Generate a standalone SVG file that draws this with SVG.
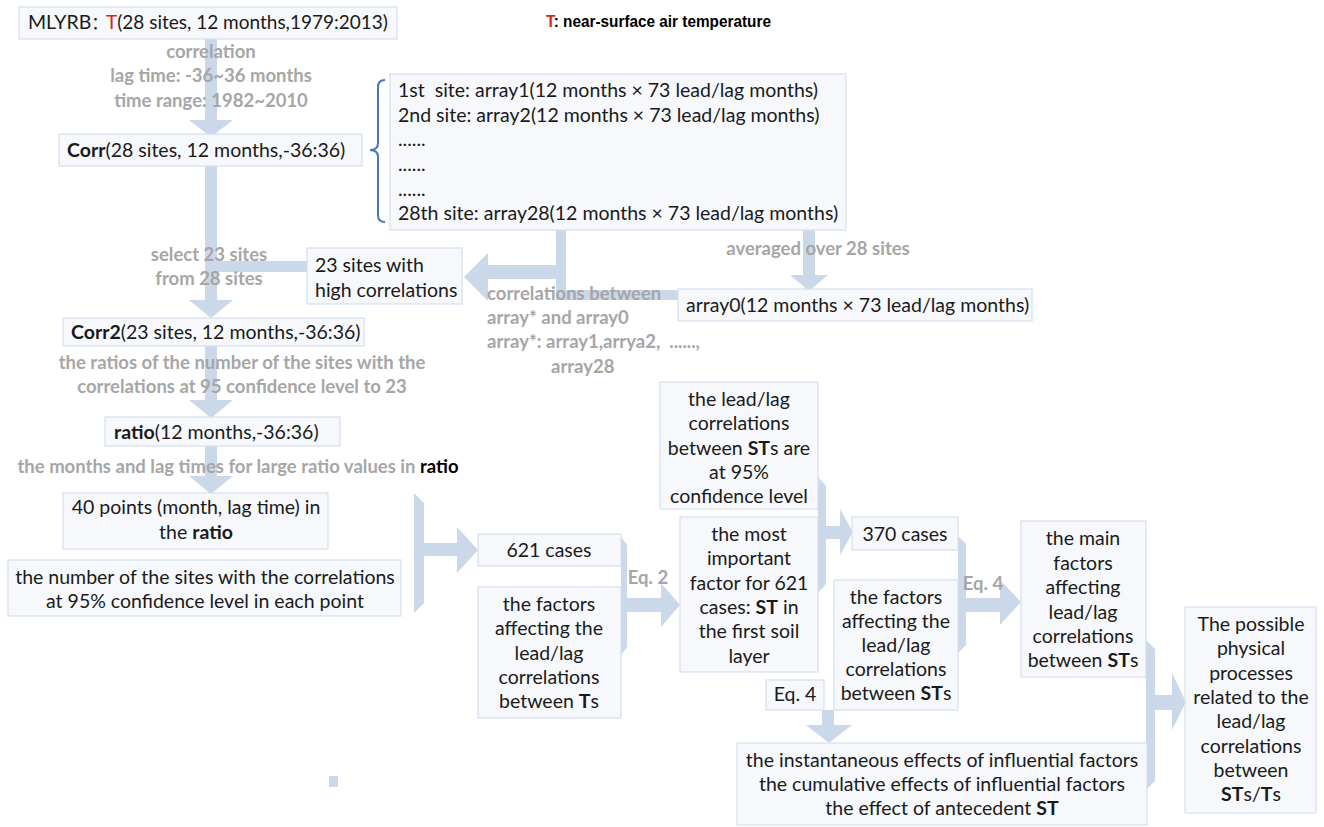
<svg xmlns="http://www.w3.org/2000/svg" width="1324" height="827" viewBox="0 0 1324 827">
<style>
.box{fill:#f6f8fb;stroke:#d6e0ee;stroke-width:1.2}
.arr{fill:#cbd8ea;stroke:none}
.t{font-family:Lato,"Liberation Sans","Noto Sans CJK SC",sans-serif;font-size:19.5px;fill:#1a1a1a;white-space:pre}
.c{text-anchor:middle}
.g{font-family:Lato,"Liberation Sans",sans-serif;font-size:18.5px;font-weight:bold;fill:#a6a6a6;white-space:pre}
.b{font-weight:bold}
</style>
<rect width="1324" height="827" fill="#ffffff"/>
<g id="connectors">
  <rect class="arr" x="205" y="39" width="12" height="82"/>
  <polygon class="arr" points="189,120 233,120 211,137"/>
  <rect class="arr" x="205" y="166" width="12" height="135"/>
  <polygon class="arr" points="189,300 233,300 211,318"/>
  <rect class="arr" x="217" y="261" width="90" height="11"/>
  <rect class="arr" x="556" y="230" width="10" height="70"/>
  <rect class="arr" x="556" y="290" width="122" height="10"/>
  <rect class="arr" x="486" y="265" width="80" height="14"/>
  <polygon class="arr" points="488,253 488,301 464,277"/>
  <rect class="arr" x="803" y="230" width="12" height="46"/>
  <polygon class="arr" points="790,275 828,275 809,291"/>
  <rect class="arr" x="205" y="346" width="12" height="55"/>
  <polygon class="arr" points="189,400 233,400 211,418"/>
  <rect class="arr" x="205" y="446" width="12" height="31"/>
  <polygon class="arr" points="189,476 233,476 211,494"/>
  <polygon class="arr" points="414,493 424,503 424,603 414,613"/>
  <rect class="arr" x="424" y="543" width="34" height="13"/>
  <polygon class="arr" points="457,527 457,573 478,550"/>
  <polygon class="arr" points="621,537 627,545 627,647 621,655"/>
  <rect class="arr" x="627" y="598" width="35" height="14"/>
  <polygon class="arr" points="661,583 661,627 680,605"/>
  <polygon class="arr" points="818,477 826,486 826,584 818,593"/>
  <rect class="arr" x="826" y="526" width="16" height="13"/>
  <polygon class="arr" points="840,509 840,555 853,532"/>
  <polygon class="arr" points="958,536 966,544 966,645 958,653"/>
  <rect class="arr" x="966" y="598" width="35" height="14"/>
  <polygon class="arr" points="1000,580 1000,625 1021,602"/>
  <rect class="arr" x="822" y="710" width="12" height="16"/>
  <polygon class="arr" points="806,725 852,725 829,743"/>
  <polygon class="arr" points="1146,640 1155,649 1155,781 1146,790"/>
  <rect class="arr" x="1155" y="695" width="18" height="15"/>
  <polygon class="arr" points="1172,673 1172,730 1186,702"/>
  <path d="M385,80 Q378,80 378,87 L378,143 Q378,150 370,150 Q378,150 378,157 L378,215 Q378,222 385,222" fill="none" stroke="#4a78b4" stroke-width="2"/>
  <rect class="arr" x="329" y="776" width="9" height="11"/>
  <text class="g c" x="211" y="58">correlation</text>
  <text class="g c" x="211" y="82">lag time: -36~36 months</text>
  <text class="g c" x="211" y="107">time range: 1982~2010</text>
  <text class="g c" x="209" y="261">select 23 sites</text>
  <text class="g c" x="209" y="285">from 28 sites</text>
  <text class="g c" x="818" y="255">averaged over 28 sites</text>
  <text class="g" x="487" y="300">correlations between</text>
  <text class="g" x="487" y="324">array* and array0</text>
  <text class="g" x="487" y="348">array*: array1,arrya2,  ......,</text>
  <text class="g" x="551" y="373">array28</text>
  <text class="g c" x="242" y="369">the ratios of the number of the sites with the</text>
  <text class="g c" x="242" y="393">correlations at 95 confidence level to 23</text>
  <text class="g c" x="238" y="473">the months and lag times for large ratio values in <tspan fill="#000">ratio</tspan></text>
  <text class="g c" x="648" y="584">Eq. 2</text>
  <text class="g c" x="983" y="590">Eq. 4</text>
</g>
<g id="title">
  <text x="546" y="27" font-family="'Liberation Sans',Arial,sans-serif" font-size="16" font-weight="bold" fill="#000" textLength="225" lengthAdjust="spacingAndGlyphs"><tspan fill="#e0201b">T</tspan>: near-surface air temperature</text>
</g>
<g id="n-mlyrb">
  <rect class="box" x="19" y="7" width="378" height="32"/>
  <text class="t" x="28" y="29">MLYRB<tspan style="font-family:'Noto Sans CJK SC',sans-serif;font-size:17px">：</tspan></text>
  <text class="t" x="106" y="29" style="font-size:19px"><tspan fill="#e0201b">T</tspan>(28 sites, 12 months,1979:2013)</text>
</g>
<g id="n-corr">
  <rect class="box" x="59" y="134" width="303" height="32"/>
  <text class="t" x="67" y="157"><tspan class="b">Corr</tspan>(28 sites, 12 months,-36:36)</text>
</g>
<g id="n-arrays">
  <rect class="box" x="390" y="74" width="456" height="156"/>
  <text class="t" x="398" y="97">1st  site: array1(12 months × 73 lead/lag months)</text>
  <text class="t" x="398" y="122">2nd site: array2(12 months × 73 lead/lag months)</text>
  <text class="t" x="398" y="146">......</text>
  <text class="t" x="398" y="171">......</text>
  <text class="t" x="398" y="196">......</text>
  <text class="t" x="398" y="220">28th site: array28(12 months × 73 lead/lag months)</text>
</g>
<g id="n-23sites">
  <rect class="box" x="307" y="248" width="155" height="56"/>
  <text class="t" x="315" y="272">23 sites with</text>
  <text class="t" x="315" y="297">high correlations</text>
</g>
<g id="n-array0">
  <rect class="box" x="678" y="289" width="354" height="32"/>
  <text class="t" x="686" y="312">array0(12 months × 73 lead/lag months)</text>
</g>
<g id="n-corr2">
  <rect class="box" x="63" y="318" width="301" height="28"/>
  <text class="t" x="71" y="339"><tspan class="b">Corr2</tspan>(23 sites, 12 months,-36:36)</text>
</g>
<g id="n-ratio">
  <rect class="box" x="105" y="417" width="235" height="29"/>
  <text class="t" x="114" y="439"><tspan class="b">ratio</tspan>(12 months,-36:36)</text>
</g>
<g id="n-40points">
  <rect class="box" x="63" y="493" width="265" height="56"/>
  <text class="t c" x="196" y="514">40 points (month, lag time) in</text>
  <text class="t c" x="196" y="539">the <tspan class="b">ratio</tspan></text>
</g>
<g id="n-numsites">
  <rect class="box" x="8" y="560" width="393" height="56"/>
  <text class="t c" x="205" y="584">the number of the sites with the correlations</text>
  <text class="t c" x="205" y="608">at 95% confidence level in each point</text>
</g>
<g id="n-621">
  <rect class="box" x="478" y="534" width="143" height="32"/>
  <text class="t c" x="549" y="557">621 cases</text>
</g>
<g id="n-factorsT">
  <rect class="box" x="478" y="587" width="143" height="131"/>
  <text class="t c" x="549" y="611">the factors</text>
  <text class="t c" x="549" y="635">affecting the</text>
  <text class="t c" x="549" y="660">lead/lag</text>
  <text class="t c" x="549" y="684">correlations</text>
  <text class="t c" x="549" y="708">between <tspan class="b">T</tspan>s</text>
</g>
<g id="n-stconf">
  <rect class="box" x="660" y="382" width="158" height="127"/>
  <text class="t c" x="739" y="406">the lead/lag</text>
  <text class="t c" x="739" y="430">correlations</text>
  <text class="t c" x="739" y="455">between <tspan class="b">ST</tspan>s are</text>
  <text class="t c" x="739" y="479">at 95%</text>
  <text class="t c" x="739" y="503">confidence level</text>
</g>
<g id="n-important">
  <rect class="box" x="680" y="517" width="138" height="155"/>
  <text class="t c" x="749" y="541">the most</text>
  <text class="t c" x="749" y="565">important</text>
  <text class="t c" x="749" y="590">factor for 621</text>
  <text class="t c" x="749" y="614">cases: <tspan class="b">ST</tspan> in</text>
  <text class="t c" x="749" y="638">the first soil</text>
  <text class="t c" x="749" y="663">layer</text>
</g>
<g id="n-370">
  <rect class="box" x="852" y="517" width="106" height="33"/>
  <text class="t c" x="905" y="541">370 cases</text>
</g>
<g id="n-factorsST">
  <rect class="box" x="834" y="580" width="124" height="130"/>
  <text class="t c" x="896" y="604">the factors</text>
  <text class="t c" x="896" y="628">affecting the</text>
  <text class="t c" x="896" y="652">lead/lag</text>
  <text class="t c" x="896" y="676">correlations</text>
  <text class="t c" x="896" y="700">between <tspan class="b">ST</tspan>s</text>
</g>
<g id="n-eq4">
  <rect class="box" x="766" y="680" width="58" height="30"/>
  <text class="t c" x="795" y="701">Eq. 4</text>
</g>
<g id="n-main">
  <rect class="box" x="1021" y="521" width="125" height="156"/>
  <text class="t c" x="1083" y="545">the main</text>
  <text class="t c" x="1083" y="570">factors</text>
  <text class="t c" x="1083" y="594">affecting</text>
  <text class="t c" x="1083" y="619">lead/lag</text>
  <text class="t c" x="1083" y="643">correlations</text>
  <text class="t c" x="1083" y="667">between <tspan class="b">ST</tspan>s</text>
</g>
<g id="n-effects">
  <rect class="box" x="737" y="743" width="410" height="82"/>
  <text class="t c" x="942" y="767">the instantaneous effects of influential factors</text>
  <text class="t c" x="942" y="791">the cumulative effects of influential factors</text>
  <text class="t c" x="942" y="815">the effect of antecedent <tspan class="b">ST</tspan></text>
</g>
<g id="n-processes">
  <rect class="box" x="1185" y="607" width="131" height="206"/>
  <text class="t c" x="1251" y="631">The possible</text>
  <text class="t c" x="1251" y="655">physical</text>
  <text class="t c" x="1251" y="680">processes</text>
  <text class="t c" x="1251" y="704">related to the</text>
  <text class="t c" x="1251" y="728">lead/lag</text>
  <text class="t c" x="1251" y="753">correlations</text>
  <text class="t c" x="1251" y="777">between</text>
  <text class="t c" x="1251" y="801"><tspan class="b">ST</tspan>s/<tspan class="b">T</tspan>s</text>
</g>
</svg>
